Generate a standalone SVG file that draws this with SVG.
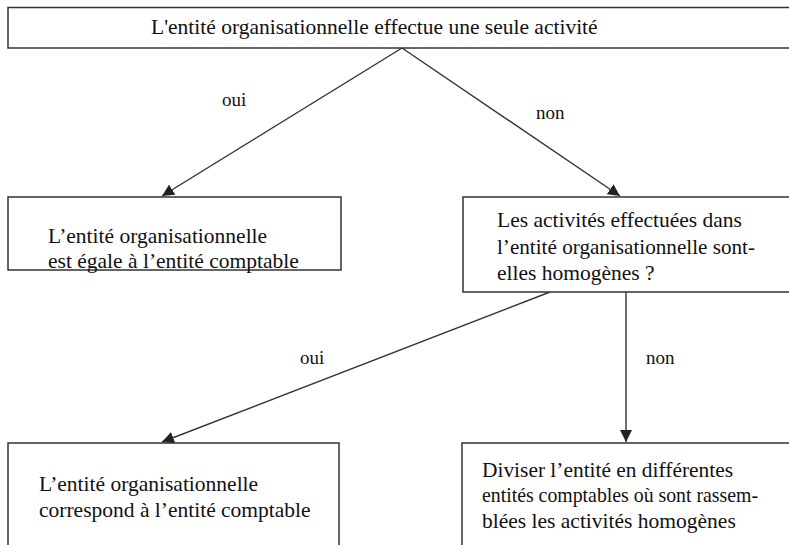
<svg xmlns="http://www.w3.org/2000/svg" width="789" height="545" viewBox="0 0 789 545">
  <style>
    .box { fill: #ffffff; stroke: #333333; stroke-width: 1.5; }
    .edge { stroke: #333333; stroke-width: 1.4; fill: none; marker-end: url(#arrow); }
    text { font-family: 'Liberation Serif', 'Times New Roman', serif; font-size: 21.5px; fill: #111111; }
    .lbl { font-size: 19px; }
  </style>
  <defs>
    <marker id="arrow" viewBox="0 0 10 10" refX="10" refY="5" markerWidth="12" markerHeight="12" markerUnits="userSpaceOnUse" orient="auto">
      <path d="M0,0 L10,5 L0,10 z" fill="#222222"/>
    </marker>
  </defs>

  <g id="connectors">
    <line class="edge" x1="402" y1="48" x2="162" y2="196"/>
    <line class="edge" x1="402" y1="48" x2="620" y2="196"/>
    <line class="edge" x1="550" y1="292" x2="162" y2="442"/>
    <line class="edge" x1="626" y1="292" x2="626" y2="442"/>
    <text class="lbl" x="222" y="106">oui</text>
    <text class="lbl" x="536" y="119">non</text>
    <text class="lbl" x="300" y="364">oui</text>
    <text class="lbl" x="646" y="364">non</text>
  </g>

  <g id="n-start">
    <rect class="box" x="8" y="7.5" width="790" height="40.5"/>
    <text x="151" y="34">L'entité organisationnelle effectue une seule activité</text>
  </g>

  <g id="n-egale">
    <rect class="box" x="8" y="197" width="333" height="73"/>
    <text x="48" y="243">L’entité organisationnelle</text>
    <text x="48" y="268">est égale à l’entité comptable</text>
  </g>

  <g id="n-homogenes">
    <rect class="box" x="463" y="197" width="335" height="95"/>
    <text x="497" y="227">Les activités effectuées dans</text>
    <text x="497" y="254" textLength="258" lengthAdjust="spacingAndGlyphs">l’entité organisationnelle sont-</text>
    <text x="497" y="280">elles homogènes ?</text>
  </g>

  <g id="n-correspond">
    <rect class="box" x="8" y="443" width="331" height="120"/>
    <text x="39" y="491">L’entité organisationnelle</text>
    <text x="39" y="517">correspond à l’entité comptable</text>
  </g>

  <g id="n-diviser">
    <rect class="box" x="462" y="443" width="336" height="120"/>
    <text x="482" y="477" textLength="251" lengthAdjust="spacingAndGlyphs">Diviser l’entité en différentes</text>
    <text x="482" y="502" textLength="276" lengthAdjust="spacingAndGlyphs">entités comptables où sont rassem-</text>
    <text x="482" y="528">blées les activités homogènes</text>
  </g>
</svg>
